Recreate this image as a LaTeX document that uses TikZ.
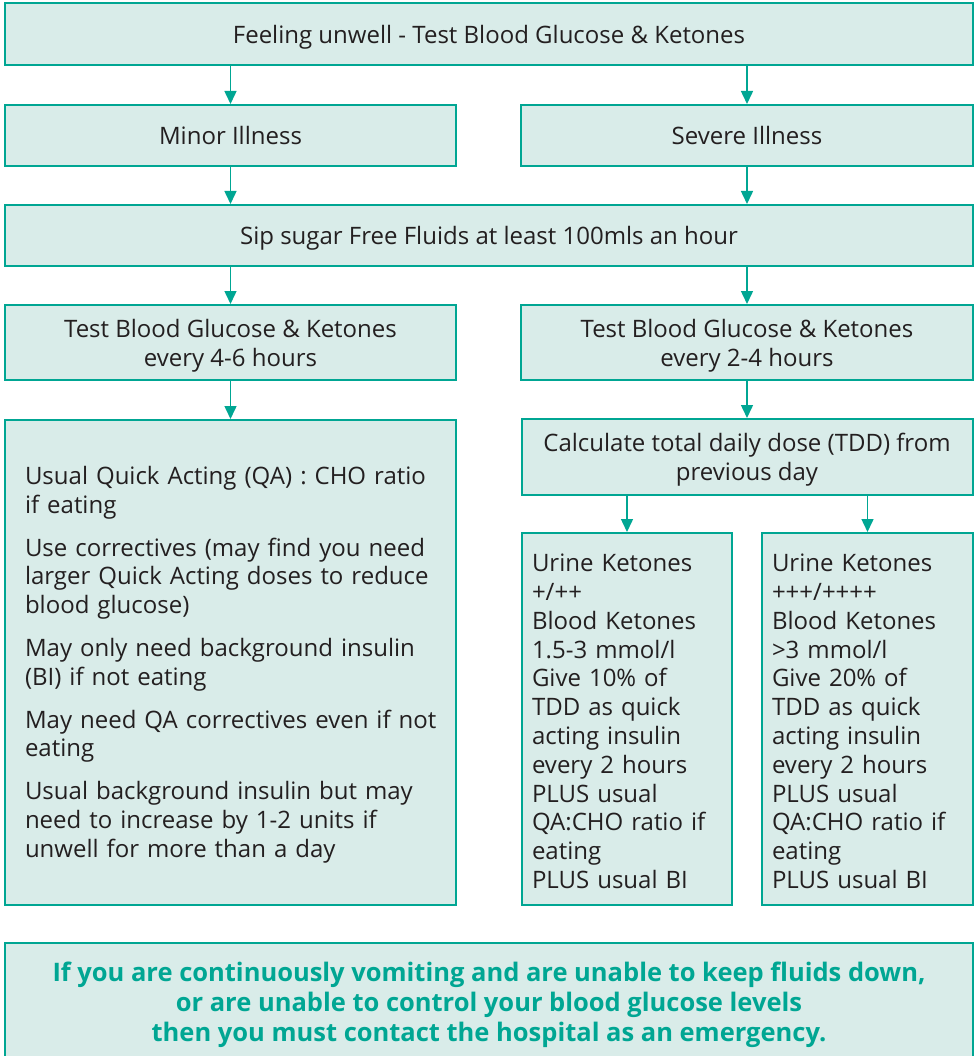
\documentclass[tikz,border=0pt]{standalone}
\usepackage{fontspec}
\setmainfont{Open Sans}
\usetikzlibrary{arrows.meta}
\definecolor{teal1}{RGB}{0,166,147}
\definecolor{boxfill}{RGB}{217,236,233}
\definecolor{txt}{RGB}{35,31,32}
\begin{document}
\begin{tikzpicture}[x=1pt,y=1pt,
  box/.style={draw=teal1,fill=boxfill,line width=2pt,inner sep=0pt,text=txt,
    font=\fontsize{24}{28.8}\selectfont,align=center},
  low/.style={text depth=0pt},
  arr/.style={draw=teal1,line width=1.5pt,-{Triangle[width=12pt,length=13pt]}}]
\clip (0,0) rectangle (978,-1056);
\node[box,low,minimum width=968,minimum height=62] (top) at (489,-34) {Feeling unwell - Test Blood Glucose \& Ketones};
\node[box,low,minimum width=451,minimum height=61] (minor) at (230.5,-135.5) {Minor Illness};
\node[box,low,minimum width=452,minimum height=61] (severe) at (747,-135.5) {Severe Illness};
\node[box,low,minimum width=968,minimum height=61] (sip) at (489,-235.5) {Sip sugar Free Fluids at least 100mls an hour};
\node[box,low,minimum width=451,minimum height=75] (testA) at (230.5,-342.5) {Test Blood Glucose \& Ketones\\every 4-6 hours};
\node[box,low,minimum width=452,minimum height=75] (testB) at (747,-342.5) {Test Blood Glucose \& Ketones\\every 2-4 hours};
\node[box,minimum width=451,minimum height=485,text width=411,align=left] (adv) at (230.5,-662.5) {\rule{0pt}{22.5pt}\mbox{Usual Quick Acting (QA) : CHO ratio}\\if eating\\[14pt]
\mbox{Use correctives (may find you need}\\\mbox{larger Quick Acting doses to reduce}\\blood glucose)\\[14pt]
\mbox{May only need background insulin}\\(BI) if not eating\\[14pt]
\mbox{May need QA correctives even if not}\\eating\\[14pt]
\mbox{Usual background insulin but may}\\\mbox{need to increase by 1-2 units if}\\\mbox{unwell for more than a day}};
\node[box,low,minimum width=451,minimum height=76] (calc) at (747,-457) {Calculate total daily dose (TDD) from\\previous day};
\node[box,minimum width=210,minimum height=372,text width=190,align=left] (urA) at (627,-719) {\rule{0pt}{22.5pt}Urine Ketones\\+/++\\Blood Ketones\\1.5-3 mmol/l\\Give 10\% of\\TDD as quick\\acting insulin\\every 2 hours\\PLUS usual\\\mbox{QA:CHO ratio if}\\eating\\PLUS usual BI};
\node[box,minimum width=211,minimum height=372,text width=191,align=left] (urB) at (867.5,-719) {\rule{0pt}{22.5pt}Urine Ketones\\+++/++++\\Blood Ketones\\>3 mmol/l\\Give 20\% of\\TDD as quick\\acting insulin\\every 2 hours\\PLUS usual\\\mbox{QA:CHO ratio if}\\eating\\PLUS usual BI};
\node[box,minimum width=968,minimum height=124,text=teal1,font=\fontsize{25.5}{30}\selectfont\bfseries] (warn) at (489,-1005) {If you are continuously vomiting and are unable to keep fluids down,\\or are unable to control your blood glucose levels\\then you must contact the hospital as an emergency.};
\draw[arr] (top.south -| minor) -- (minor);
\draw[arr] (top.south -| severe) -- (severe);
\draw[arr] (minor) -- (minor |- sip.north);
\draw[arr] (severe) -- (severe |- sip.north);
\draw[arr] (sip.south -| testA) -- (testA);
\draw[arr] (sip.south -| testB) -- (testB);
\draw[arr] (testA) -- (adv);
\draw[arr] (testB) -- (calc);
\draw[arr] (calc.south -| urA) -- (urA);
\draw[arr] (calc.south -| urB) -- (urB);
\end{tikzpicture}
\end{document}
